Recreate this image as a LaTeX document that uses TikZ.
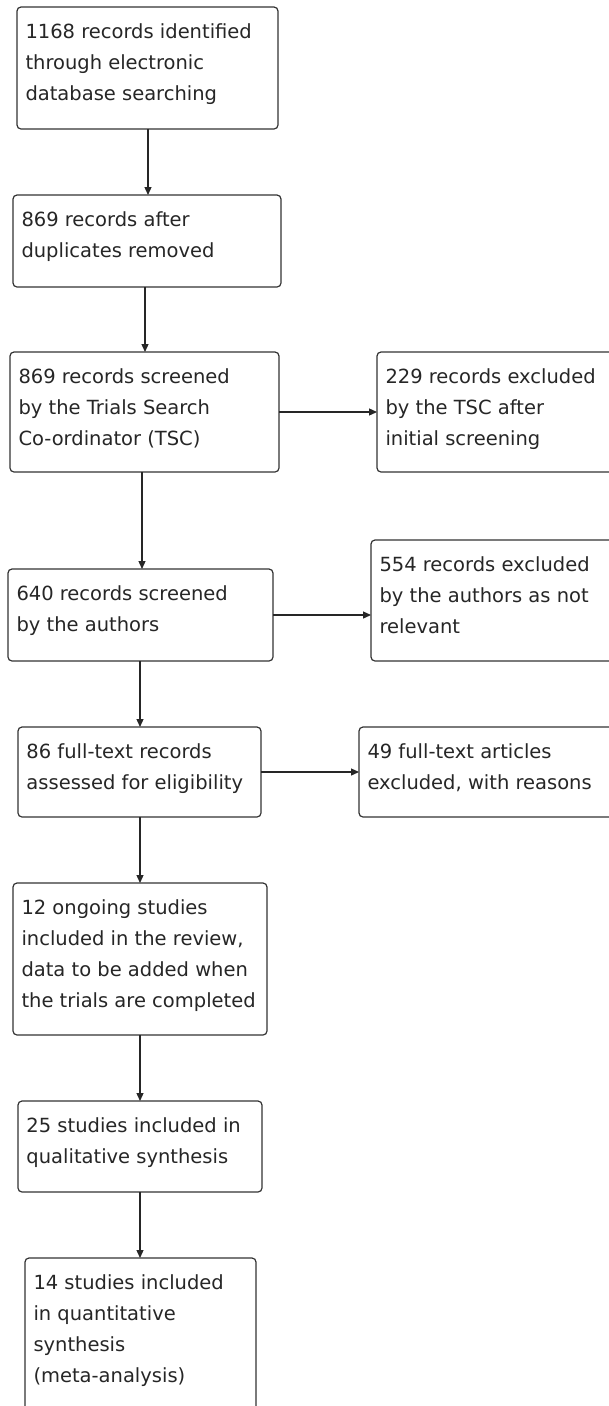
\documentclass[tikz,border=0pt]{standalone}
\usepackage{fontspec}
\setmainfont{DejaVu Sans}
\usetikzlibrary{arrows.meta}
\newcommand\ftl[1]{\hbox{\vrule height20pt depth0pt width0pt #1}}
\newcommand\flowbox[6]{%
  \node[pbox] (#1) at (#2,#3) {\vbox to \dimexpr#5pt-#3pt\relax{%
    \hrule height0pt depth0pt width \dimexpr#4pt-#2pt-17pt\relax
    \kern11pt\baselineskip=31pt\lineskiplimit=-100pt #6\vss}};}
\begin{document}
\begin{tikzpicture}[x=1pt,y=-1pt,
  pbox/.style={draw=black!80, line width=1.2pt, rounded corners=4pt,
    anchor=north west, inner xsep=8.5pt, inner ysep=0pt, outer sep=0pt,
    text=black!85, font=\fontsize{19.5pt}{31pt}\selectfont},
  conn/.style={draw=black!85, line width=1.3pt, -{Triangle[length=8pt,width=7pt]}}]
\clip (0,0) rectangle (609,1406);
\fill[white] (0,0) rectangle (609,1406);
\flowbox{b1}{17}{7}{278}{129}{\ftl{1168 records identified}\ftl{through electronic}\ftl{database searching}}
\flowbox{b2}{13}{195}{281}{287}{\ftl{869 records after}\ftl{duplicates removed}}
\flowbox{b3}{10}{352}{279}{472}{\ftl{869 records screened}\ftl{by the Trials Search}\ftl{Co-ordinator (TSC)}}
\flowbox{r1}{377}{352}{630}{472}{\ftl{229 records excluded}\ftl{by the TSC after}\ftl{initial screening}}
\flowbox{b4}{8}{569}{273}{661}{\ftl{640 records screened}\ftl{by the authors}}
\flowbox{r2}{371}{540}{630}{661}{\ftl{554 records excluded}\ftl{by the authors as not}\ftl{relevant}}
\flowbox{b5}{18}{727}{261}{817}{\ftl{86 full-text records}\ftl{assessed for eligibility}}
\flowbox{r3}{359}{727}{630}{817}{\ftl{49 full-text articles}\ftl{excluded, with reasons}}
\flowbox{b6}{13}{883}{267}{1035}{\ftl{12 ongoing studies}\ftl{included in the review,}\ftl{data to be added when}\ftl{the trials are completed}}
\flowbox{b7}{18}{1101}{262}{1192}{\ftl{25 studies included in}\ftl{qualitative synthesis}}
\flowbox{b8}{25}{1258}{256}{1440}{\ftl{14 studies included}\ftl{in quantitative}\ftl{synthesis}\ftl{(meta-analysis)}}
\coordinate (c1) at (148,0);
\coordinate (c2) at (145,0);
\coordinate (c3) at (142,0);
\coordinate (c4) at (140,0);
\draw[conn] (b1.south -| c1) -- (b2.north -| c1);
\draw[conn] (b2.south -| c2) -- (b3.north -| c2);
\draw[conn] (b3.south -| c3) -- (b4.north -| c3);
\draw[conn] (b4.south -| c4) -- (b5.north -| c4);
\draw[conn] (b5.south -| c4) -- (b6.north -| c4);
\draw[conn] (b6.south -| c4) -- (b7.north -| c4);
\draw[conn] (b7.south -| c4) -- (b8.north -| c4);
\draw[conn] (b3.east) -- (b3.east -| r1.west);
\draw[conn] (b4.east) -- (b4.east -| r2.west);
\draw[conn] (b5.east) -- (b5.east -| r3.west);
\end{tikzpicture}
\end{document}
